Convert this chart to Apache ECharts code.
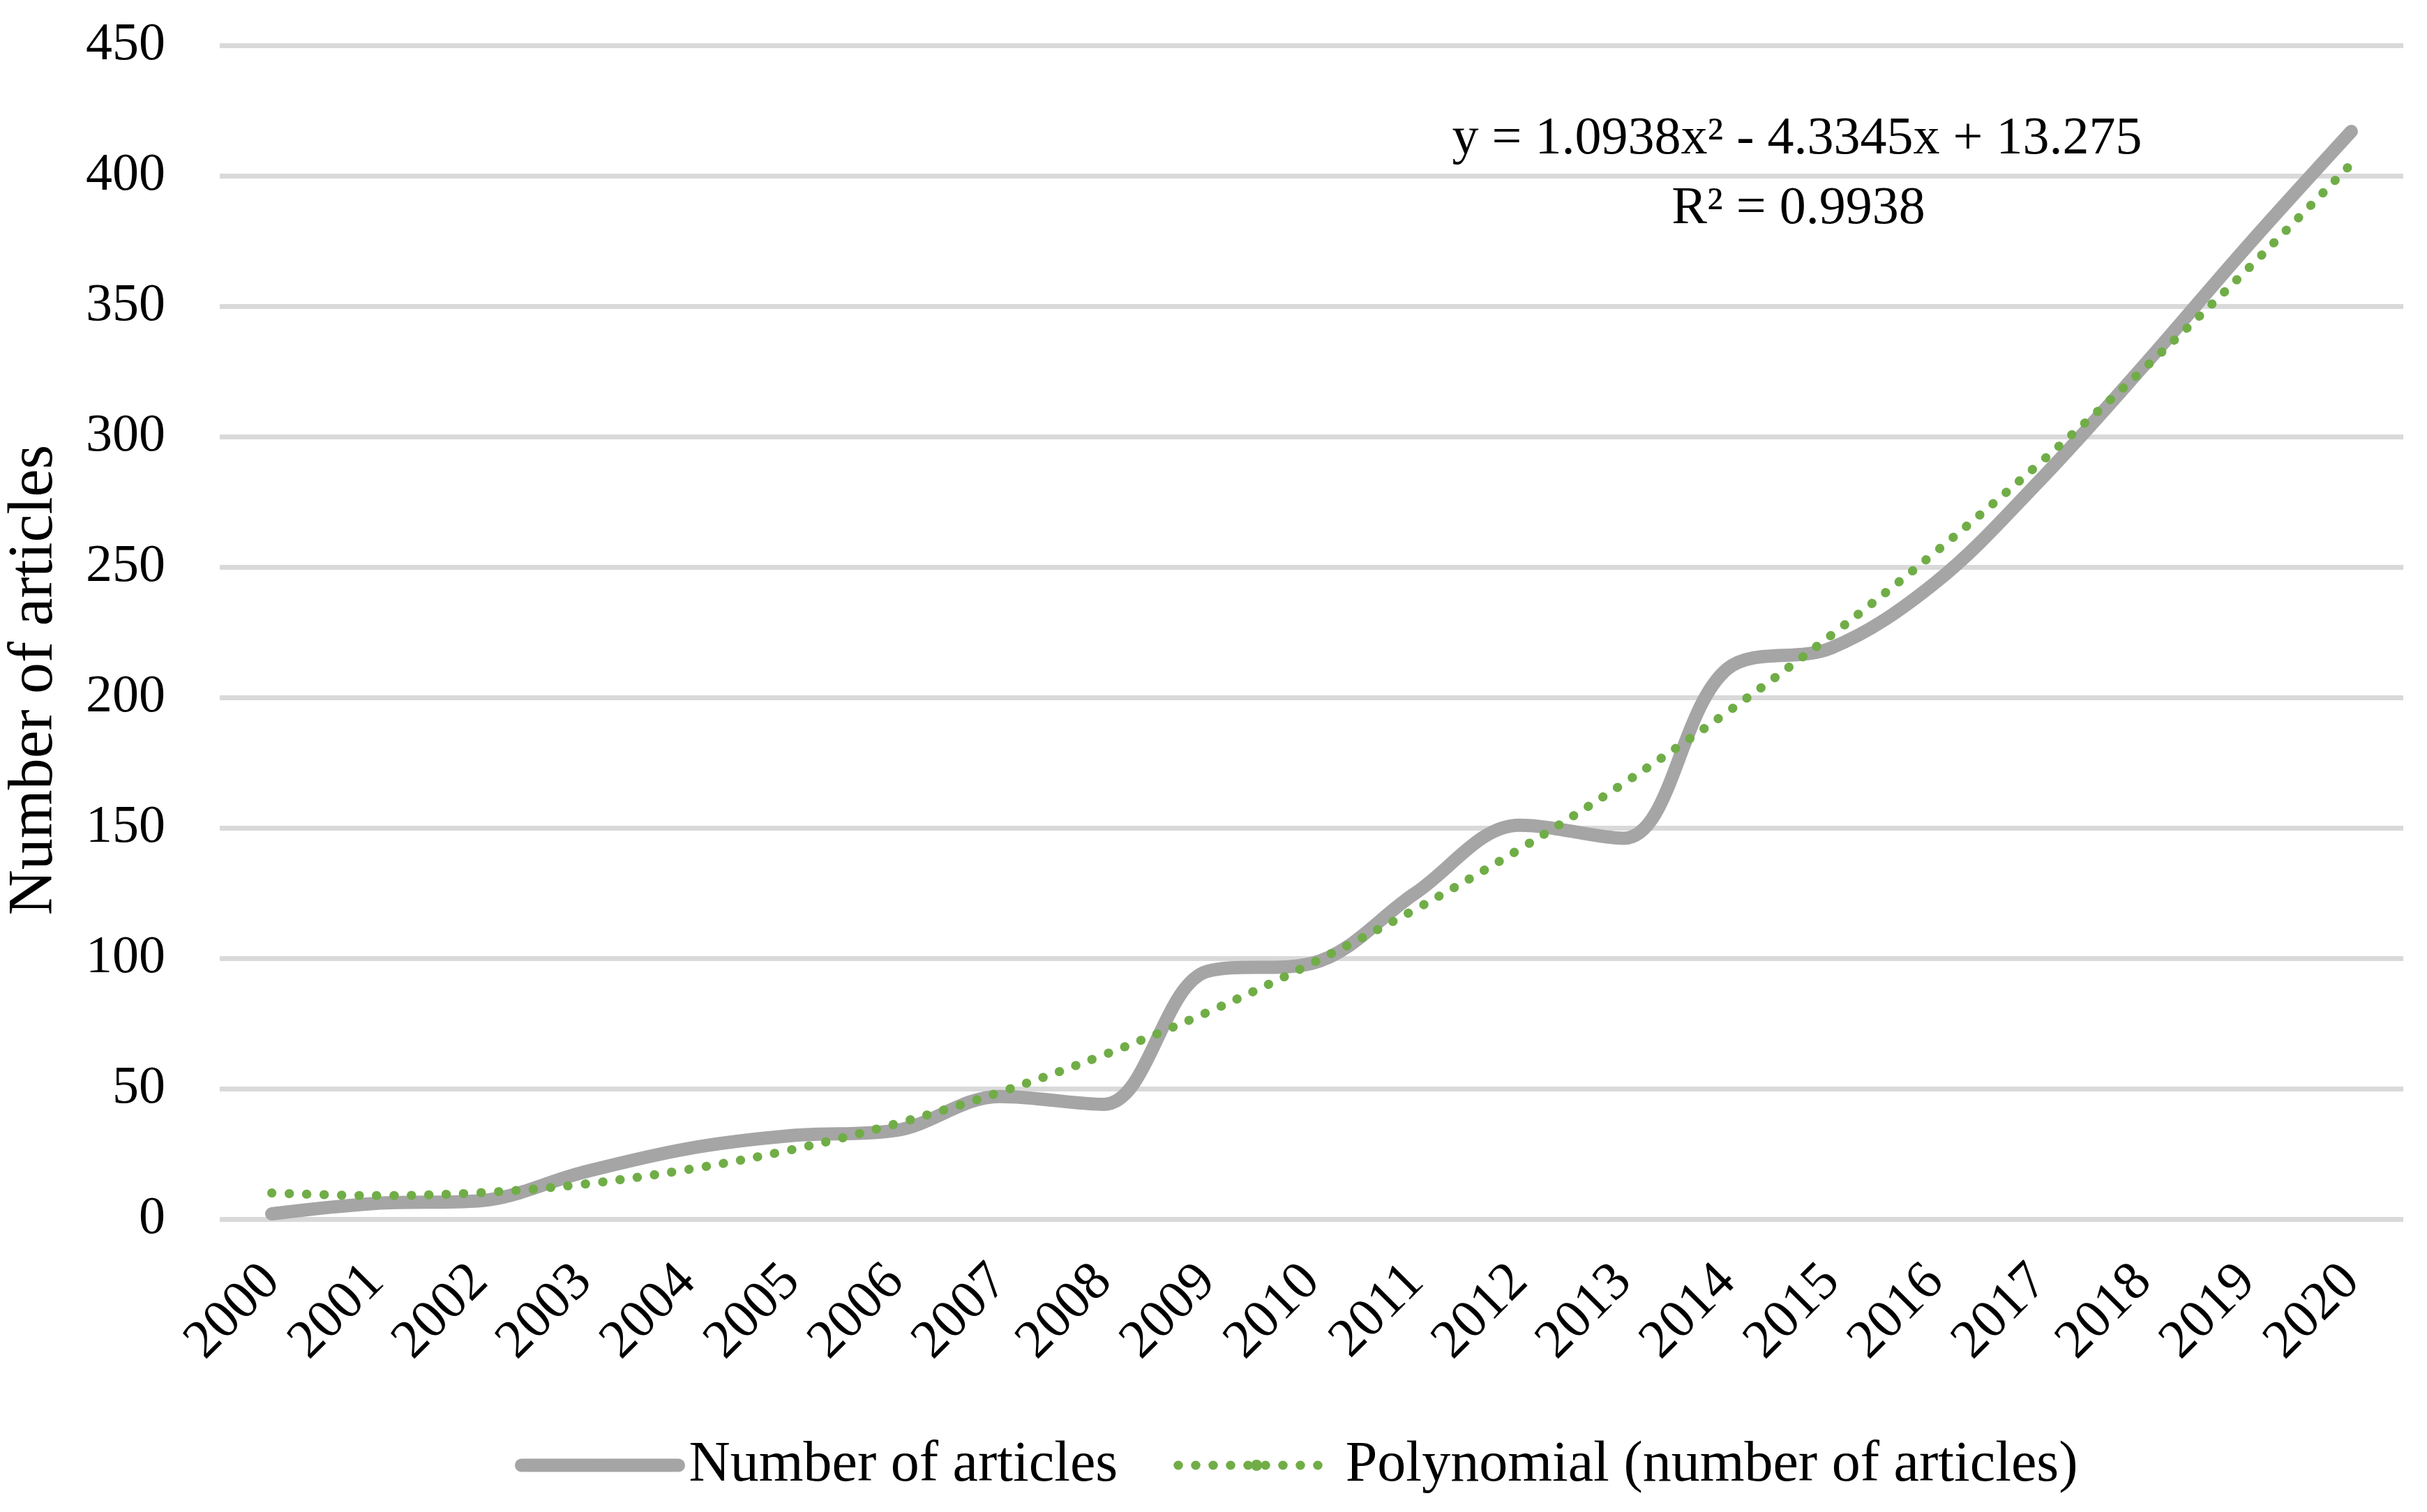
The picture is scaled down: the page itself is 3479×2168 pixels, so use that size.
<!DOCTYPE html>
<html>
<head>
<meta charset="utf-8">
<script src="https://cdn.jsdelivr.net/npm/echarts@6/dist/echarts.min.js"></script>
<style>
html,body{margin:0;padding:0;background:#fff;}
#chart{width:3479px;height:2168px;}
</style>
</head>
<body>
<div id="chart"></div>
<script>
var years = ['2000','2001','2002','2003','2004','2005','2006','2007','2008','2009','2010','2011','2012','2013','2014','2015','2016','2017','2018','2019','2020'];
var articles = [2, 6, 7, 18, 27, 32, 34, 47, 44, 95, 98, 125, 151, 146, 211, 219, 244, 283, 327, 373, 417];
var trendValues = [10.0, 9.0, 10.1, 13.4, 19.0, 26.6, 36.5, 48.6, 62.9, 79.3, 98.0, 118.8, 141.8, 167.0, 194.4, 223.9, 255.7, 289.7, 325.8, 364.1, 404.6];
var yTicks = {min: 0, max: 450, interval: 50};
var seriesNames = ['Number of articles', 'Polynomial (number of articles)'];
var yTitle = 'Number of articles';
var equationText = 'y = 1.0938x\u00B2 - 4.3345x + 13.275';
var r2Text = 'R\u00B2 = 0.9938';

var FONT = '"Liberation Serif", "Times New Roman", serif';
var chart = echarts.init(document.getElementById('chart'), null, {renderer: 'canvas'});
chart.setOption({
  backgroundColor: '#ffffff',
  animation: false,
  grid: {left: 315, right: 34, top: 65, bottom: 420, containLabel: false},
  xAxis: {
    type: 'category',
    data: years,
    boundaryGap: true,
    axisLine: {show: false},
    axisTick: {show: false},
    axisLabel: {rotate: 45, interval: 0, fontSize: 78, fontFamily: FONT, color: '#000', margin: 78}
  },
  yAxis: {
    type: 'value',
    min: yTicks.min, max: yTicks.max, interval: yTicks.interval,
    axisLine: {show: false},
    axisTick: {show: false},
    axisLabel: {fontSize: 76, fontFamily: FONT, color: '#000', margin: 78},
    splitLine: {lineStyle: {color: '#D9D9D9', width: 7}}
  },
  legend: {
    left: 738, top: 2060,
    itemWidth: 225, itemHeight: 20, itemGap: 80,
    padding: 0,
    textStyle: {fontSize: 82, fontFamily: FONT, color: '#000', padding: [0, 0, 0, 10]},
    lineStyle: {width: 'inherit', cap: 'inherit', type: 'inherit', color: 'inherit'},
    data: [seriesNames[0], seriesNames[1]]
  },
  series: [
    {
      name: seriesNames[0], type: 'line', data: articles,
      smooth: 0.35, symbol: 'none',
      lineStyle: {color: '#A5A5A5', width: 19, cap: 'round', join: 'round'},
      itemStyle: {color: '#A5A5A5'},
      z: 2
    },
    {
      name: seriesNames[1], type: 'line', data: trendValues,
      smooth: 0.35, symbol: 'none',
      lineStyle: {color: '#70AD47', width: 13, type: [0.5, 24.5], cap: 'round'},
      itemStyle: {color: '#70AD47'},
      z: 3
    }
  ],
  graphic: [
    {type: 'text', x: 50, y: 975, rotation: Math.PI / 2,
     style: {text: yTitle, font: '90px ' + FONT, fill: '#000', textAlign: 'center', textVerticalAlign: 'middle'}},
    {type: 'text', x: 2576, y: 200,
     style: {text: equationText, font: '76px ' + FONT, fill: '#000', textAlign: 'center', textVerticalAlign: 'middle'}},
    {type: 'text', x: 2578, y: 300,
     style: {text: r2Text, font: '76px ' + FONT, fill: '#000', textAlign: 'center', textVerticalAlign: 'middle'}}
  ]
});
</script>
</body>
</html>
